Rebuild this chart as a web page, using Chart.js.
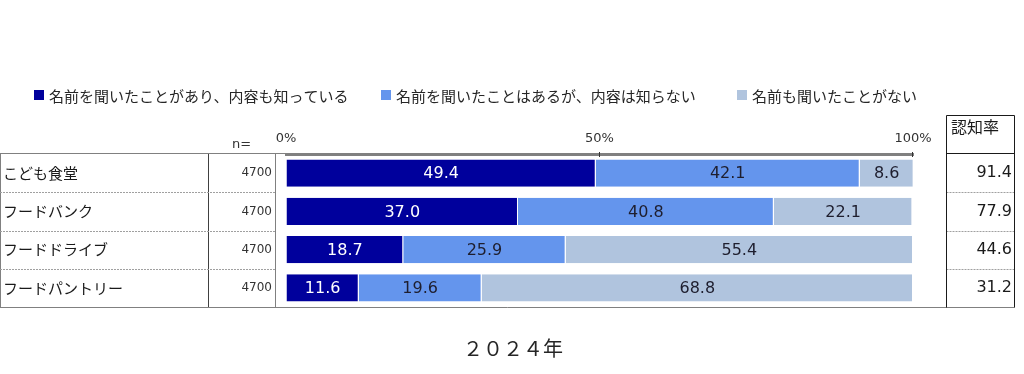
<!DOCTYPE html>
<html lang="ja">
<head>
<meta charset="utf-8">
<title>認知率 2024年</title>
<script src="https://cdn.jsdelivr.net/npm/chart.js@4.4.1/dist/chart.umd.min.js"></script>
<style>
  html, body { margin: 0; padding: 0; background: #fff; }
  canvas { display: block; }
</style>
</head>
<body>
<canvas id="awarenessChart" width="1024" height="374"></canvas>
<script>
// data
const categories = ['こども食堂', 'フードバンク', 'フードドライブ', 'フードパントリー'];
const sampleSizes = [4700, 4700, 4700, 4700];
const knowContent = [49.4, 37.0, 18.7, 11.6];
const heardOnly = [42.1, 40.8, 25.9, 19.6];
const neverHeard = [8.6, 22.1, 55.4, 68.8];
const awareness = [91.4, 77.9, 44.6, 31.2];
const seriesNames = ['名前を聞いたことがあり、内容も知っている', '名前を聞いたことはあるが、内容は知らない', '名前も聞いたことがない'];
const seriesColors = ['#00009C', '#6495ED', '#B0C4DE'];
const labelColors = ['#ffffff', '#1e1e2e', '#1e1e2e'];

const JP = '"Noto Sans CJK JP", sans-serif';
const NUM = '"DejaVu Sans", "Noto Sans CJK JP", sans-serif';

// legend, table lines, numbers beside the bars
const tablePlugin = {
    id: 'tablePlugin',
    afterDraw(chart) {
        const ctx = chart.ctx;
        const area = chart.chartArea;
        const yScale = chart.scales.y;
        const xScale = chart.scales.x;
        const half = (yScale.getPixelForValue(1) - yScale.getPixelForValue(0)) / 2;
        const top = area.top, bottom = area.bottom;
        const boxL = 946.5, boxR = 1014.5, boxTop = 115.5;

        ctx.save();

        // legend
        const legendX = [34, 381, 737];
        ctx.font = '15px ' + JP;
        ctx.textBaseline = 'middle';
        ctx.textAlign = 'left';
        chart.data.datasets.forEach((ds, i) => {
            ctx.fillStyle = ds.backgroundColor;
            ctx.fillRect(legendX[i], 90, 10, 10);
            ctx.fillStyle = '#262626';
            ctx.fillText(ds.label, legendX[i] + 15, 96);
        });

        // small tick marks through the axis line
        ctx.strokeStyle = '#333';
        ctx.lineWidth = 1;
        ctx.beginPath();
        [50, 100].forEach(v => {
            const xx = Math.round(xScale.getPixelForValue(v)) - 0.5;
            ctx.moveTo(xx, top - 2); ctx.lineTo(xx, top + 3);
        });
        ctx.stroke();

        // left table
        ctx.strokeStyle = '#808080';
        ctx.beginPath();
        ctx.moveTo(0, top - 0.5); ctx.lineTo(area.left, top - 0.5);
        ctx.moveTo(0, bottom + 0.5); ctx.lineTo(boxR, bottom + 0.5);
        ctx.moveTo(0.5, top); ctx.lineTo(0.5, bottom);
        ctx.moveTo(275.5, top); ctx.lineTo(275.5, bottom);
        ctx.stroke();
        ctx.strokeStyle = '#404040';
        ctx.beginPath();
        ctx.moveTo(208.5, top); ctx.lineTo(208.5, bottom);
        ctx.stroke();

        ctx.strokeStyle = '#a0a0a0';
        ctx.setLineDash([2, 1]);
        ctx.beginPath();
        for (let i = 1; i < categories.length; i++) {
            const yy = Math.round(yScale.getPixelForValue(i) - half) + 0.5;
            ctx.moveTo(0, yy); ctx.lineTo(275, yy);
            ctx.moveTo(boxL, yy); ctx.lineTo(boxR, yy);
        }
        ctx.stroke();
        ctx.setLineDash([]);

        // right box
        ctx.strokeStyle = '#1a1a1a';
        ctx.beginPath();
        ctx.moveTo(boxL, boxTop); ctx.lineTo(boxR, boxTop);
        ctx.moveTo(boxL, boxTop); ctx.lineTo(boxL, bottom + 0.5);
        ctx.moveTo(boxR, boxTop); ctx.lineTo(boxR, bottom + 0.5);
        ctx.moveTo(boxL, top - 0.5); ctx.lineTo(boxR, top - 0.5);
        ctx.stroke();

        ctx.fillStyle = '#1a1a1a';
        ctx.font = '16px ' + JP;
        ctx.fillText('認知率', 951, 127);

        ctx.font = '13px ' + NUM;
        ctx.fillStyle = '#333';
        ctx.fillText('n=', 232, 145);

        // row texts
        categories.forEach((c, i) => {
            const yy = yScale.getPixelForValue(i);
            ctx.textAlign = 'left';
            ctx.fillStyle = '#1a1a1a';
            ctx.font = '15px ' + JP;
            ctx.fillText(c, 3, yy);
            ctx.textAlign = 'right';
            ctx.fillStyle = '#333';
            ctx.font = '12px ' + NUM;
            ctx.fillText(String(sampleSizes[i]), 272, yy);
            ctx.fillStyle = '#1a1a1a';
            ctx.font = '16px ' + NUM;
            ctx.fillText(awareness[i].toFixed(1), 1012, yy);
        });

        // values on the bars
        ctx.textAlign = 'center';
        ctx.font = '16px ' + NUM;
        chart.data.datasets.forEach((ds, i) => {
            chart.getDatasetMeta(i).data.forEach((bar, j) => {
                ctx.fillStyle = labelColors[i];
                ctx.fillText(ds.data[j].toFixed(1), (bar.x + bar.base) / 2, bar.y + 1);
            });
        });

        // year caption
        ctx.fillStyle = '#262626';
        ctx.font = '20px ' + JP;
        ctx.fillText('２０２４年', 513, 348);

        ctx.restore();
    }
};

const ctx = document.getElementById('awarenessChart').getContext('2d');
const awarenessChart = new Chart(ctx, {
    type: 'bar',
    data: {
        labels: categories,
        datasets: [knowContent, heardOnly, neverHeard].map((d, i) => ({
            label: seriesNames[i],
            data: d,
            backgroundColor: seriesColors[i],
            borderColor: '#ffffff',
            borderWidth: { right: 1 },
            barPercentage: 0.71,
            categoryPercentage: 1
        }))
    },
    options: {
        indexAxis: 'y',
        responsive: false,
        animation: false,
        devicePixelRatio: 1,
        layout: { padding: { left: 286, right: 111, top: 128, bottom: 67 } },
        scales: {
            x: {
                position: 'top',
                stacked: true,
                min: 0,
                max: 100,
                afterFit: s => { s.height = 26; },
                ticks: {
                    stepSize: 50,
                    padding: 8,
                    color: '#333',
                    font: { family: NUM, size: 13 },
                    callback: v => v + '%'
                },
                grid: { drawOnChartArea: false, drawTicks: false },
                border: { color: '#808080', width: 3 }
            },
            y: { stacked: true, display: false }
        },
        plugins: {
            legend: { display: false },
            tooltip: { enabled: false }
        }
    },
    plugins: [tablePlugin]
});
</script>
</body>
</html>
